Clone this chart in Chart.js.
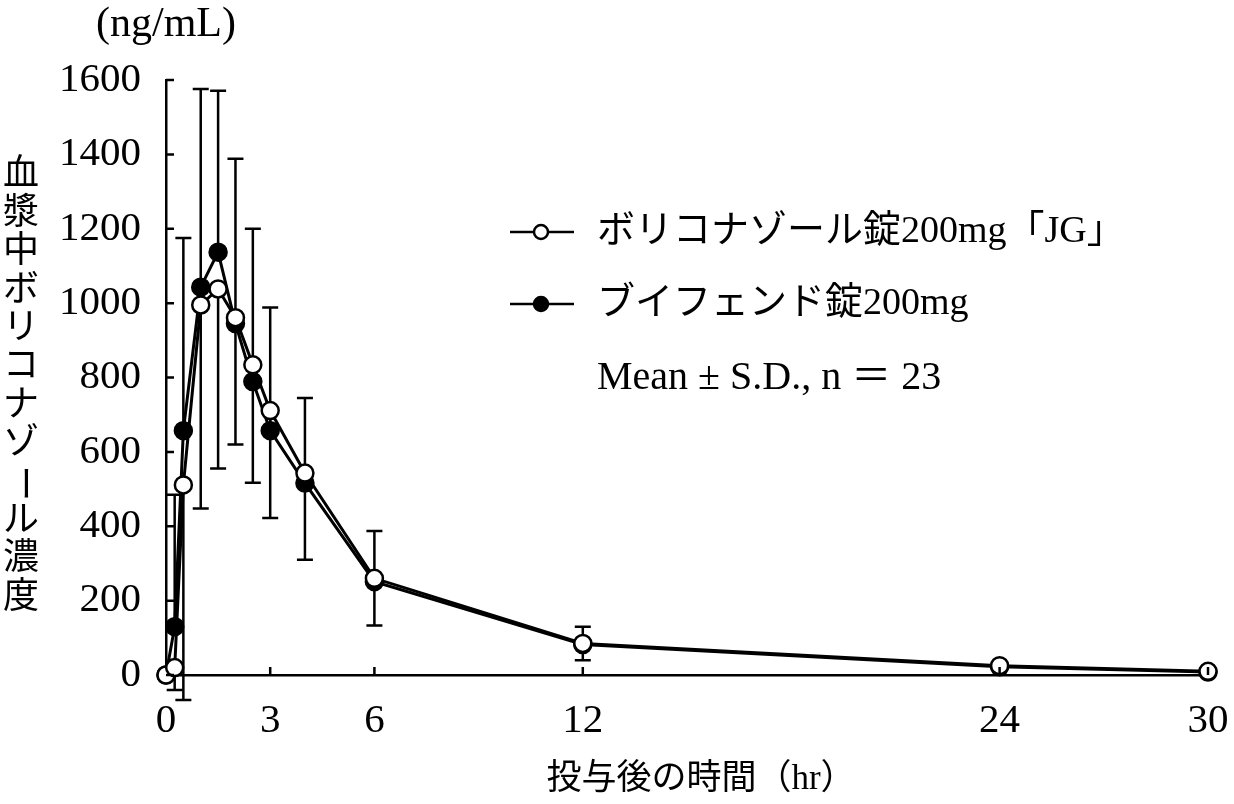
<!DOCTYPE html>
<html lang="ja">
<head>
<meta charset="utf-8">
<title>血漿中ボリコナゾール濃度</title>
<script src="https://cdn.jsdelivr.net/npm/chart.js@4.4.1/dist/chart.umd.min.js"></script>
<style>
  html, body { margin: 0; padding: 0; background: #fff; }
</style>
</head>
<body>
<canvas id="pkChart" width="1234" height="804"></canvas>
<script>
// 投与後の時間 (hr)
const hours = [0, 0.25, 0.5, 1, 1.5, 2, 2.5, 3, 4, 6, 12, 24, 30];
// ボリコナゾール錠200mg「JG」 mean (ng/mL), S.D. drawn downward
const jgMean = [0, 20, 511, 995, 1038, 961, 834, 711, 543, 260, 85, 25, 10];
const jgSD = [null, 60, 578, 547, 483, 341, 317, 289, 233, 127, 45, null, null];
// ブイフェンド錠200mg mean (ng/mL), S.D. drawn upward
const refMean = [0, 130, 657, 1043, 1137, 945, 789, 657, 516, 251, 82, 22, 8];
const refSD = [null, 355, 518, 533, 434, 443, 411, 331, 229, 136, 48, null, null];
// axis ticks
const xTicks = [0, 3, 6, 12, 24, 30];
const yStep = 200;
const yMax = 1600;

const yTitle = '血漿中ボリコナゾール濃度';
const unitLabel = '(ng/mL)';
const xTitle = '投与後の時間（hr）';
const jgName = 'ボリコナゾール錠200mg「JG」';
const refName = 'ブイフェンド錠200mg';
const statNote = 'Mean ± S.D., n ＝ 23';

const FONT = '"Liberation Serif", "Noto Sans CJK JP", serif';

const toPoints = (ys) => hours.map((h, i) => ({ x: h, y: ys[i] }));

// S.D. bars, drawn under the markers
const errorBars = {
  id: 'errorBars',
  beforeDatasetsDraw(chart) {
    const { ctx, scales: { x, y } } = chart;
    const cap = 8;
    ctx.save();
    ctx.strokeStyle = '#000';
    ctx.lineWidth = 2.5;
    const bar = (h, from, to) => {
      const px = x.getPixelForValue(h);
      const y1 = y.getPixelForValue(from);
      const y2 = y.getPixelForValue(to);
      ctx.beginPath();
      ctx.moveTo(px, y1);
      ctx.lineTo(px, y2);
      ctx.moveTo(px - cap, y2);
      ctx.lineTo(px + cap, y2);
      ctx.stroke();
    };
    hours.forEach((h, i) => {
      if (refSD[i] != null) bar(h, refMean[i], refMean[i] + refSD[i]);
      if (jgSD[i] != null) bar(h, jgMean[i], jgMean[i] - jgSD[i]);
    });
    ctx.restore();
  }
};

// inward tick marks, titles and legend
const decorations = {
  id: 'decorations',
  afterDraw(chart) {
    const { ctx, chartArea: area, scales: { x, y } } = chart;
    ctx.save();
    ctx.strokeStyle = '#000';
    ctx.fillStyle = '#000';
    ctx.lineWidth = 2.5;

    // ticks pointing into the plot
    ctx.beginPath();
    y.ticks.forEach(t => {
      const py = y.getPixelForValue(t.value);
      ctx.moveTo(area.left, py);
      ctx.lineTo(area.left + 8, py);
    });
    xTicks.slice(1).forEach(v => {
      const px = x.getPixelForValue(v);
      ctx.moveTo(px, area.bottom);
      ctx.lineTo(px, area.bottom - 8);
    });
    ctx.stroke();

    // unit above y axis
    ctx.font = '42px ' + FONT;
    ctx.textAlign = 'center';
    ctx.textBaseline = 'middle';
    ctx.fillText(unitLabel, area.left, 25);

    // vertical y title
    ctx.font = '36px ' + FONT;
    [...yTitle].forEach((ch, i) => {
      const cy = 176 + i * 38.4;
      if (ch === 'ー') {
        ctx.save();
        ctx.translate(21, cy);
        ctx.rotate(Math.PI / 2);
        ctx.fillText(ch, 0, 0);
        ctx.restore();
      } else {
        ctx.fillText(ch, 21, cy);
      }
    });

    // x title
    ctx.font = '35px ' + FONT;
    ctx.fillText(xTitle, 701, 780);

    // legend
    const rows = [
      { label: jgName, fill: '#fff', yPos: 232 },
      { label: refName, fill: '#000', yPos: 304 }
    ];
    ctx.textAlign = 'left';
    ctx.font = '38px ' + FONT;
    rows.forEach(r => {
      ctx.lineWidth = 2.5;
      ctx.beginPath();
      ctx.moveTo(510, r.yPos);
      ctx.lineTo(574, r.yPos);
      ctx.stroke();
      ctx.beginPath();
      ctx.arc(541, r.yPos, 7, 0, Math.PI * 2);
      ctx.fillStyle = r.fill;
      ctx.fill();
      ctx.stroke();
      ctx.fillStyle = '#000';
      ctx.fillText(r.label, 597, r.yPos);
    });
    ctx.font = '40px ' + FONT;
    ctx.fillText(statNote, 597, 378);
    ctx.restore();
  }
};

const ctx = document.getElementById('pkChart').getContext('2d');
const pkChart = new Chart(ctx, {
  type: 'line',
  data: {
    datasets: [
      {
        label: jgName,
        data: toPoints(jgMean),
        borderColor: '#000',
        borderWidth: 3,
        pointRadius: 8.5,
        pointBorderWidth: 2.5,
        pointBackgroundColor: '#fff',
        pointBorderColor: '#000',
        clip: false
      },
      {
        label: refName,
        data: toPoints(refMean),
        borderColor: '#000',
        borderWidth: 3,
        pointRadius: 8.5,
        pointBorderWidth: 2.5,
        pointBackgroundColor: '#000',
        pointBorderColor: '#000',
        clip: false
      }
    ]
  },
  options: {
    responsive: false,
    animation: false,
    devicePixelRatio: 1,
    layout: { padding: { top: 80, right: 26, left: 0, bottom: 0 } },
    plugins: {
      legend: { display: false },
      tooltip: { enabled: false }
    },
    scales: {
      x: {
        type: 'linear',
        min: 0,
        max: 30,
        afterBuildTicks: (scale) => { scale.ticks = xTicks.map(v => ({ value: v })); },
        afterFit: (scale) => {
          scale.height = 129;
          scale.paddingLeft = 0;
          scale.paddingRight = 0;
        },
        grid: { display: false, drawTicks: false },
        border: { display: true, color: '#000', width: 2.5 },
        ticks: { color: '#000', padding: 22, maxRotation: 0, font: { family: FONT, size: 41 } }
      },
      y: {
        min: 0,
        max: yMax,
        afterFit: (scale) => { scale.width = 166; },
        grid: { display: false, drawTicks: false },
        border: { display: true, color: '#000', width: 2.5 },
        ticks: {
          color: '#000',
          padding: 25,
          stepSize: yStep,
          font: { family: FONT, size: 41 },
          callback: (v) => String(v)
        }
      }
    }
  },
  plugins: [errorBars, decorations]
});
</script>
</body>
</html>
